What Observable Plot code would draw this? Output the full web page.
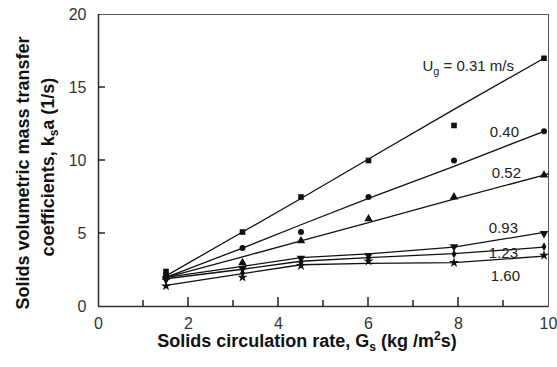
<!DOCTYPE html>
<html>
<head>
<meta charset="utf-8">
<script src="https://cdn.jsdelivr.net/npm/d3@7"></script>
<script src="https://cdn.jsdelivr.net/npm/@observablehq/plot@0.6"></script>
<style>
  html, body { margin: 0; padding: 0; background: #fff; }
  #chart { width: 557px; height: 367px; }
</style>
</head>
<body>
<div id="chart"></div>
<script>
// ---- data ----
const gs = [1.5, 3.2, 4.5, 6.0, 7.9, 9.9];              // solids circulation rate
const seriesNames = ["0.31", "0.40", "0.52", "0.93", "1.23", "1.60"];  // Ug (m/s)
const ksa_031 = [2.4, 5.1, 7.5, 10.0, 12.4, 17.0];
const ksa_040 = [2.2, 4.0, 5.1, 7.5, 10.0, 12.0];
const ksa_052 = [2.0, 3.0, 4.5, 6.0, 7.5, 9.0];
const ksa_093 = [1.9, 2.6, 3.3, 3.5, 4.1, 5.0];
const ksa_123 = [1.8, 2.3, 3.0, 3.3, 3.6, 4.1];
const ksa_160 = [1.4, 2.0, 2.8, 3.1, 3.0, 3.5];

// fitted curves
const fitGs = [1.5, 3.2, 4.5, 6.0, 7.9, 9.9, 10.0];
const fit_031 = [2.1, 5.1, 7.4, 10.1, 13.5, 17.0, null];
const fit_040 = [2.0, 4.0, 5.6, 7.4, 9.6, 12.0, null];
const fit_052 = [2.0, 3.4, 4.5, 5.75, 7.35, 9.0, 9.1];
const fit_093 = [2.0, 2.75, 3.35, 3.6, 4.06, 5.08, null];
const fit_123 = [1.9, 2.55, 3.1, 3.35, 3.62, 4.06, null];
const fit_160 = [1.44, 2.25, 2.86, 2.95, 3.0, 3.45, null];

const seriesLabels = ["Ug = 0.31 m/s", "0.40", "0.52", "0.93", "1.23", "1.60"];
const xTickLabels = [0, 2, 4, 6, 8, 10];
const yTickLabels = [0, 5, 10, 15, 20];
const xMinorTicks = [1, 3, 5, 7, 9];
const xMajorTicks = [2, 4, 6, 8];
const yInnerTicks = [5, 10, 15];

// ---- layout ----
const W = 557, H = 367, mL = 98, mR = 9, mT = 14, mB = 61;
const xDomain = [0, 10], yDomain = [0, 20];

// ---- build tables ----
const values = [ksa_031, ksa_040, ksa_052, ksa_093, ksa_123, ksa_160];
const fits = [fit_031, fit_040, fit_052, fit_093, fit_123, fit_160];
const points = [];
seriesNames.forEach((s, i) => gs.forEach((x, j) => points.push({s, x, y: values[i][j]})));
const fitRows = [];
seriesNames.forEach((s, i) => fitGs.forEach((x, j) => {
  if (fits[i][j] != null) fitRows.push({s, x, y: fits[i][j]});
}));
const lastPts = seriesNames.map((s, i) => ({s, x: gs[gs.length - 1], y: values[i][values[i].length - 1], label: seriesLabels[i]}));

// label offsets (layout)
const labelDx = [-30, -25, -23, -26, -26, -24];
const labelDy = [8, 1, -2, -5, 7, 21];

const ink = "#222";
const chart = Plot.plot({
  width: W,
  height: H,
  marginLeft: mL,
  marginRight: mR,
  marginTop: mT,
  marginBottom: mB,
  style: {fontFamily: "Liberation Sans, Arial, sans-serif", background: "white", color: ink},
  x: {domain: xDomain, label: null},
  y: {domain: yDomain, label: null},
  symbol: {domain: seriesNames, range: ["square", "circle", "triangle", "triangle", "diamond", "star"]},
  marks: [
    Plot.frame({stroke: "#555", strokeWidth: 1}),
    Plot.ruleX([0], {stroke: "#333", strokeWidth: 1.6}),
    Plot.ruleY([0], {stroke: "#333", strokeWidth: 1.6}),
    // tick labels
    Plot.axisX({ticks: xTickLabels, tickSize: 0, tickPadding: 11, fontSize: 16, fill: "#333", tickFormat: d => String(d), label: null}),
    Plot.axisY({ticks: yTickLabels, tickSize: 0, tickPadding: 12, fontSize: 16, fill: "#333", tickFormat: d => String(d), label: null}),
    // fitted lines
    Plot.line(fitRows, {x: "x", y: "y", z: "s", stroke: "#111", strokeWidth: 1.3}),
    // markers
    Plot.dot(points, {x: "x", y: "y", symbol: "s", fill: "#111", stroke: "none",
      r: d => d.s === "1.23" ? 2.7 : d.s === "0.40" ? 3.6 : 4, rotate: d => d.s === "0.93" ? 180 : 0}),
    // series labels
    Plot.text(lastPts, {x: "x", y: "y", text: "label", textAnchor: "end", fontSize: 15, fill: "#222"})
  ]
});

document.getElementById("chart").appendChild(chart);

const svg = d3.select(chart);
const sx = chart.scale("x"), sy = chart.scale("y");

// inward tick marks, positioned with the plot's own scales
const tg = svg.append("g").attr("stroke", "#222").attr("stroke-width", 1.5);
const y0 = sy.apply(0), x0 = sx.apply(0);
xMinorTicks.forEach(v => tg.append("line").attr("x1", sx.apply(v)).attr("x2", sx.apply(v)).attr("y1", y0).attr("y2", y0 - 6));
xMajorTicks.forEach(v => tg.append("line").attr("x1", sx.apply(v)).attr("x2", sx.apply(v)).attr("y1", y0).attr("y2", y0 - 9));
yInnerTicks.forEach(v => tg.append("line").attr("y1", sy.apply(v)).attr("y2", sy.apply(v)).attr("x1", x0).attr("x2", x0 + 7));

// position series labels with offsets and build the subscript in Ug
svg.selectAll("text").each(function () {
  const t = this.textContent;
  const idx = seriesLabels.indexOf(t);
  if (idx < 0) return;
  const el = d3.select(this);
  const prev = el.attr("transform") || "";
  el.attr("transform", prev + ` translate(${labelDx[idx]},${labelDy[idx]})`);
  if (t.startsWith("Ug")) {
    el.text(null);
    el.append("tspan").text("U");
    el.append("tspan").attr("font-size", 11).attr("dy", 4).text("g");
    el.append("tspan").attr("dy", -4).text(" = 0.31 m/s");
  }
});

// axis titles
const yt = svg.append("g")
  .attr("font-family", "Liberation Sans, Arial, sans-serif")
  .attr("font-weight", "bold").attr("font-size", 18).attr("fill", "#111")
  .attr("text-anchor", "middle");
const t1 = yt.append("text").attr("transform", "translate(29,173) rotate(-90)");
t1.text("Solids volumetric mass transfer");
const t2 = yt.append("text").attr("transform", "translate(54,167) rotate(-90)");
t2.append("tspan").text("coefficients, k");
t2.append("tspan").attr("font-size", 12).attr("dy", 4).text("s");
t2.append("tspan").attr("dy", -4).text("a (1/s)");

const xt = svg.append("text")
  .attr("font-family", "Liberation Sans, Arial, sans-serif")
  .attr("font-weight", "bold").attr("font-size", 18).attr("fill", "#111")
  .attr("text-anchor", "middle")
  .attr("transform", "translate(307,347)");
xt.append("tspan").text("Solids circulation rate, G");
xt.append("tspan").attr("font-size", 12).attr("dy", 4).text("s");
xt.append("tspan").attr("dy", -4).text(" (kg /m");
xt.append("tspan").attr("font-size", 12).attr("dy", -7).text("2");
xt.append("tspan").attr("dy", 7).text("s)");
</script>
</body>
</html>
